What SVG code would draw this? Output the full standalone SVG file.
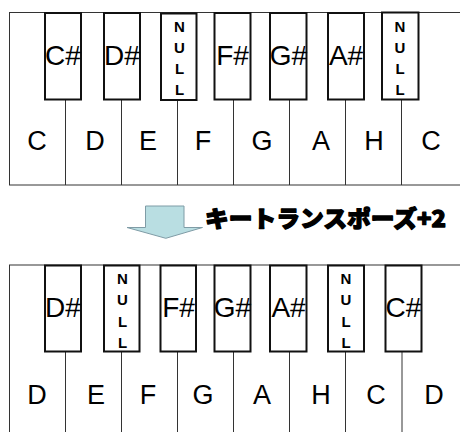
<svg xmlns="http://www.w3.org/2000/svg" width="460" height="432" viewBox="0 0 460 432">
<style>
.w{fill:#fff;stroke:#333;stroke-width:1}
.ln{stroke:#333;stroke-width:1}
.b{fill:#fff;stroke:#111;stroke-width:2}
.wl{font-family:"Liberation Sans",Arial,sans-serif;font-size:27px;fill:#000;text-anchor:middle}
.bl{font-family:"Liberation Sans",Arial,sans-serif;font-size:28px;fill:#000;text-anchor:middle}
.nl{font-family:"Liberation Sans",Arial,sans-serif;font-size:15px;font-weight:bold;fill:#000;text-anchor:middle}
.jp{font-family:"Noto Sans CJK JP","Noto Sans CJK SC",sans-serif;font-size:23px;font-weight:900;fill:#000;stroke:#000;stroke-width:1.3;stroke-linejoin:round}
</style>
<rect width="460" height="432" fill="#fff"/>
<g id="top-piano">
<rect class="w" x="9.5" y="12.5" width="470" height="172.5"/>
<g id="top-dividers">
<line class="ln" x1="65.5" y1="99" x2="65.5" y2="185"/>
<line class="ln" x1="121.5" y1="99" x2="121.5" y2="185"/>
<line class="ln" x1="177.5" y1="99" x2="177.5" y2="185"/>
<line class="ln" x1="233.5" y1="99" x2="233.5" y2="185"/>
<line class="ln" x1="289.5" y1="99" x2="289.5" y2="185"/>
<line class="ln" x1="345.5" y1="99" x2="345.5" y2="185"/>
<line class="ln" x1="401.5" y1="99" x2="401.5" y2="185"/>
</g>
<g id="top-white-labels">
<text class="wl" x="37" y="150">C</text>
<text class="wl" x="95" y="150">D</text>
<text class="wl" x="148" y="150">E</text>
<text class="wl" x="203" y="150">F</text>
<text class="wl" x="262" y="150">G</text>
<text class="wl" x="321" y="150">A</text>
<text class="wl" x="374" y="150">H</text>
<text class="wl" x="431" y="150">C</text>
</g>
<g id="top-Csharp"><rect class="b" x="45" y="13" width="36" height="86.5"/><text class="bl" x="63" y="65">C#</text></g>
<g id="top-Dsharp"><rect class="b" x="104" y="13" width="36" height="86.5"/><text class="bl" x="122" y="65">D#</text></g>
<g id="top-null1"><rect class="b" x="161" y="13.5" width="35.5" height="86.5"/>
<text class="nl" x="179.5" y="31.5">N</text><text class="nl" x="179.5" y="52.5">U</text><text class="nl" x="179.5" y="73.5">L</text><text class="nl" x="179.5" y="94.5">L</text></g>
<g id="top-Fsharp"><rect class="b" x="214.5" y="13" width="36" height="86.5"/><text class="bl" x="232.5" y="65">F#</text></g>
<g id="top-Gsharp"><rect class="b" x="270" y="13" width="36.5" height="86.5"/><text class="bl" x="288.5" y="65">G#</text></g>
<g id="top-Asharp"><rect class="b" x="328" y="13" width="36" height="86.5"/><text class="bl" x="346" y="65">A#</text></g>
<g id="top-null2"><rect class="b" x="382" y="12.5" width="36.5" height="87"/>
<text class="nl" x="400" y="31.5">N</text><text class="nl" x="400" y="52.5">U</text><text class="nl" x="400" y="73.5">L</text><text class="nl" x="400" y="94.5">L</text></g>
</g>
<g id="transpose-arrow">
<path d="M145.5,206 L184,206 L184,227.5 L202.5,227.5 L165.8,238.3 L127,227.5 L145.5,227.5 Z" fill="#B9DEE2" stroke="#7F9CA6" stroke-width="1"/>
<text class="jp" x="205" y="226.5" textLength="241" lengthAdjust="spacingAndGlyphs">キートランスポーズ+2</text>
</g>
<g id="bottom-piano">
<rect class="w" x="9.5" y="265" width="470" height="200"/>
<g id="bottom-dividers">
<line class="ln" x1="65.5" y1="351" x2="65.5" y2="432"/>
<line class="ln" x1="121.5" y1="351" x2="121.5" y2="432"/>
<line class="ln" x1="177.5" y1="351" x2="177.5" y2="432"/>
<line class="ln" x1="233.5" y1="351" x2="233.5" y2="432"/>
<line class="ln" x1="289.5" y1="351" x2="289.5" y2="432"/>
<line class="ln" x1="345.5" y1="351" x2="345.5" y2="432"/>
<line class="ln" x1="402" y1="351" x2="402" y2="432"/>
</g>
<g id="bottom-white-labels">
<text class="wl" x="37" y="404">D</text>
<text class="wl" x="96" y="404">E</text>
<text class="wl" x="148" y="404">F</text>
<text class="wl" x="203" y="404">G</text>
<text class="wl" x="262" y="404">A</text>
<text class="wl" x="321" y="404">H</text>
<text class="wl" x="376" y="404">C</text>
<text class="wl" x="434" y="404">D</text>
</g>
<g id="bottom-Dsharp"><rect class="b" x="45" y="265.5" width="36" height="86"/><text class="bl" x="63" y="317">D#</text></g>
<g id="bottom-null1"><rect class="b" x="104" y="265.5" width="35.5" height="86"/>
<text class="nl" x="122.5" y="283.5">N</text><text class="nl" x="122.5" y="305">U</text><text class="nl" x="122.5" y="326.5">L</text><text class="nl" x="122.5" y="347.5">L</text></g>
<g id="bottom-Fsharp"><rect class="b" x="160.5" y="265.5" width="35.5" height="86"/><text class="bl" x="178.5" y="317">F#</text></g>
<g id="bottom-Gsharp"><rect class="b" x="214.5" y="265.5" width="36" height="86"/><text class="bl" x="232.5" y="317">G#</text></g>
<g id="bottom-Asharp"><rect class="b" x="270" y="265.5" width="36.5" height="86"/><text class="bl" x="288.5" y="317">A#</text></g>
<g id="bottom-null2"><rect class="b" x="328" y="265.5" width="36" height="86"/>
<text class="nl" x="346" y="283.5">N</text><text class="nl" x="346" y="305">U</text><text class="nl" x="346" y="326.5">L</text><text class="nl" x="346" y="347.5">L</text></g>
<g id="bottom-Csharp"><rect class="b" x="385.5" y="265.5" width="36" height="86"/><text class="bl" x="403.5" y="317">C#</text></g>
</g>
</svg>
